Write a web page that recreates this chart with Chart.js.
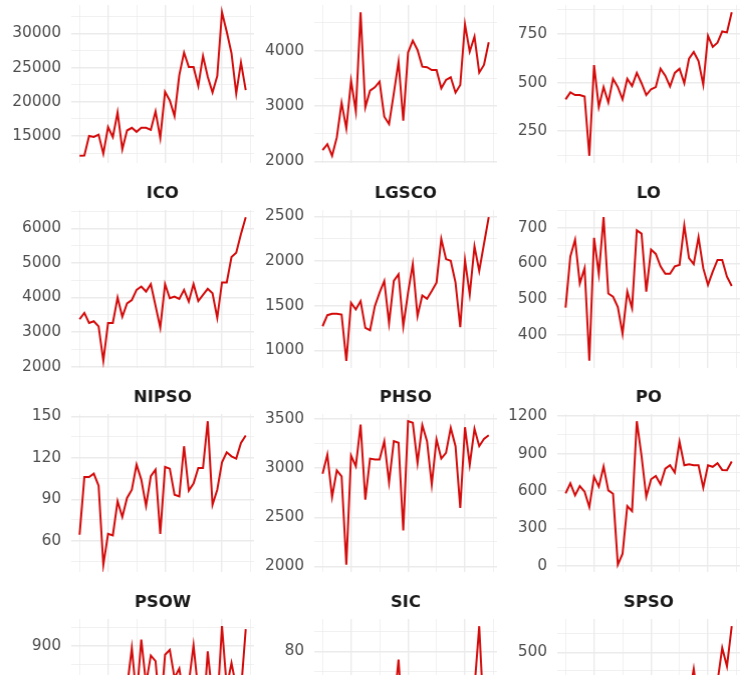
<!DOCTYPE html>
<html><head><meta charset="utf-8">
<script src="https://cdn.jsdelivr.net/npm/chart.js@4.4.0/dist/chart.umd.min.js"></script>
<style>
html,body{margin:0;padding:0;background:#fff;width:750px;height:675px;overflow:hidden;position:relative}
canvas{position:absolute}
</style></head><body>
<script>
// ---- data ----
const periods = [0,1,2,3,4,5,6,7,8,9,10,11,12,13,14,15,16,17,18,19,20,21,22,23,24,25,26,27,28,29,30,31,32,33,34,35];
const yearBreaks = [6,18,30];          // major x gridlines (January)
const halfYearBreaks = [0,12,24,36];   // minor x gridlines (July)

const titles = ['', '', '', 'ICO', 'LGSCO', 'LO', 'NIPSO', 'PHSO', 'PO', 'PSOW', 'SIC', 'SPSO'];

const panel1 = [12100,12150,15000,14850,15200,12400,16300,14850,18470,13050,15800,16200,15600,16200,16200,15900,18600,14700,21450,20200,17900,23900,27200,25100,25100,22300,26700,23650,21350,23750,33100,30250,27100,21200,25750,21700];
const panel2 = [2205,2313,2102,2434,3060,2596,3458,2910,4693,2976,3277,3337,3440,2807,2675,3229,3800,2735,3964,4180,4012,3711,3700,3650,3650,3320,3470,3518,3241,3380,4476,3982,4253,3602,3741,4150];
const panel3 = [414,450,436,436,428,123,590,375,477,398,520,477,414,520,483,550,497,436,466,477,572,536,480,550,572,497,623,658,611,489,741,684,706,764,759,863];
const ICO = [3370,3556,3263,3312,3165,2168,3263,3263,4000,3440,3830,3928,4221,4319,4172,4387,3760,3126,4387,3977,4025,3957,4221,3879,4387,3898,4074,4250,4123,3410,4436,4436,5169,5296,5834,6323];
const LGSCO = [1271,1395,1410,1410,1402,884,1534,1459,1553,1252,1226,1496,1647,1778,1308,1778,1853,1271,1647,1966,1384,1617,1579,1665,1759,2248,2023,2004,1759,1260,2011,1628,2165,1891,2192,2492];
const LO = [476,620,667,544,587,327,672,571,730,516,507,478,403,521,475,693,684,521,639,627,592,571,571,592,596,707,615,598,674,587,540,577,610,610,563,537];
const NIPSO = [64.3,106,106,108.5,99.8,42.6,65,63.9,88.5,77.1,90.9,96.9,115,104.2,85.3,106.6,111.4,65,113.3,112.1,93.3,92.1,128.3,96.2,101.3,112.6,112.6,146.4,86,96.9,116.7,123.9,121,119.4,130.7,136];
const PHSO = [2943,3137,2706,2977,2916,2017,3127,3018,3442,2679,3096,3086,3086,3273,2855,3273,3256,2366,3476,3459,3052,3436,3273,2831,3290,3096,3154,3408,3222,2594,3415,3035,3398,3222,3296,3334];
const PO = [581,662,565,640,595,471,713,635,796,605,578,8,97,479,438,1160,882,554,694,721,654,780,807,748,995,807,815,807,807,627,807,794,823,769,767,837];
const PSOW = [700,650,720,600,570,640,700,760,680,720,790,895,760,917,800,875,860,720,877,890,815,840,760,800,902,780,700,886,760,740,953,790,855,790,780,945];
const SIC = [35,30,40,28,45,21,38,42,30,50,36,44,40,48,38,52,76,40,35,45,50,42,38,55,46,40,48,52,44,36,50,58,62,92.6,45,55];
const SPSO = [250,230,260,240,220,181,250,270,240,280,260,290,300,270,310,290,320,300,280,330,310,340,320,300,350,330,380,455,360,340,390,370,420,512,462,571];

const ticks1 = [15000,20000,25000,30000];
const ticks2 = [2000,3000,4000];
const ticks3 = [250,500,750];
const ticksICO = [2000,3000,4000,5000,6000];
const ticksLGSCO = [1000,1500,2000,2500];
const ticksLO = [400,500,600,700];
const ticksNIPSO = [60,90,120,150];
const ticksPHSO = [2000,2500,3000,3500];
const ticksPO = [0,300,600,900,1200];
const ticksPSOW = [600,700,800,900];
const ticksSIC = [20,40,60,80];
const ticksSPSO = [200,300,400,500];

const seriesList = [panel1,panel2,panel3,ICO,LGSCO,LO,NIPSO,PHSO,PO,PSOW,SIC,SPSO];
const tickList = [ticks1,ticks2,ticks3,ticksICO,ticksLGSCO,ticksLO,ticksNIPSO,ticksPHSO,ticksPO,ticksPSOW,ticksSIC,ticksSPSO];

// ---- layout / style ----
const panelLefts = [70.7, 314.2, 557.4];
const panelTops = [5, 209.5, 414, 618.5];
const panelW = 182.9, panelH = 158;
const axisW = 70, titleH = 32, bottomExtra = 12, rightExtra = 4;
const LINE = '#d30a0a', GRID = '#ebebeb';
const FONT = "'DejaVu Sans', Verdana, sans-serif";

seriesList.forEach((vals, k) => {
  const r = Math.floor(k / 3), c = k % 3;
  const cv = document.createElement('canvas');
  const W = axisW + panelW + rightExtra, H = titleH + panelH + bottomExtra;
  cv.width = W; cv.height = H;
  cv.style.left = (panelLefts[c] - axisW) + 'px';
  cv.style.top = (panelTops[r] - titleH) + 'px';
  cv.style.width = W + 'px'; cv.style.height = H + 'px';
  document.body.appendChild(cv);

  const majors = tickList[k];
  const step = majors[1] - majors[0];
  const half = step / 2;
  const dmin = Math.min(...vals), dmax = Math.max(...vals);
  const ext = (dmax - dmin) * 0.05;
  const ymin = dmin - ext, ymax = dmax + ext;
  const yTicks = [];
  for (let v = Math.ceil(ymin / half) * half; v <= ymax + 1e-9; v += half) yTicks.push(+v.toFixed(6));
  const isMajor = v => majors.includes(v);
  const xmin = periods[0] - (periods[periods.length-1] - periods[0]) * 0.05;
  const xmax = periods[periods.length-1] + (periods[periods.length-1] - periods[0]) * 0.05;

  new Chart(cv, {
    type: 'line',
    data: {
      datasets: [{
        data: periods.map((p, i) => ({x: p, y: vals[i]})),
        borderColor: LINE, borderWidth: 2, pointRadius: 0, tension: 0, fill: false
      }]
    },
    options: {
      responsive: false, animation: false, devicePixelRatio: 1,
      layout: {padding: {left: 0, right: rightExtra, top: 0, bottom: 0}},
      plugins: {
        legend: {display: false}, tooltip: {enabled: false},
        title: {
          display: true, text: titles[k], fullSize: false, align: 'center',
          color: '#1a1a1a', font: {family: FONT, size: 16.5, weight: 'bold'},
          padding: {top: 6.1, bottom: 6.1}
        }
      },
      scales: {
        x: {
          type: 'linear', min: xmin, max: xmax, bounds: 'data',
          border: {display: false},
          grid: {color: GRID, drawTicks: false,
                 lineWidth: ctx => (ctx.tick && yearBreaks.includes(ctx.tick.value)) ? 1.4 : 0.7},
          ticks: {display: false},
          afterBuildTicks: s => { s.ticks = [...halfYearBreaks, ...yearBreaks].sort((a,b)=>a-b).map(v => ({value: v})); },
          afterFit: s => { s.height = bottomExtra; s.paddingLeft = 0; s.paddingRight = 0; }
        },
        y: {
          type: 'linear', min: ymin, max: ymax, bounds: 'data',
          border: {display: false},
          grid: {color: GRID, drawTicks: false,
                 lineWidth: ctx => (ctx.tick && isMajor(ctx.tick.value)) ? 1.4 : 0.7},
          ticks: {
            color: '#4d4d4d', padding: 10, autoSkip: false,
            font: {family: FONT, size: 15.3},
            callback: v => isMajor(v) ? String(v) : ''
          },
          afterBuildTicks: s => { s.ticks = yTicks.map(v => ({value: v})); },
          afterFit: s => { s.width = axisW; s.paddingTop = 0; s.paddingBottom = 0; }
        }
      }
    }
  });
});
</script>
</body></html>
